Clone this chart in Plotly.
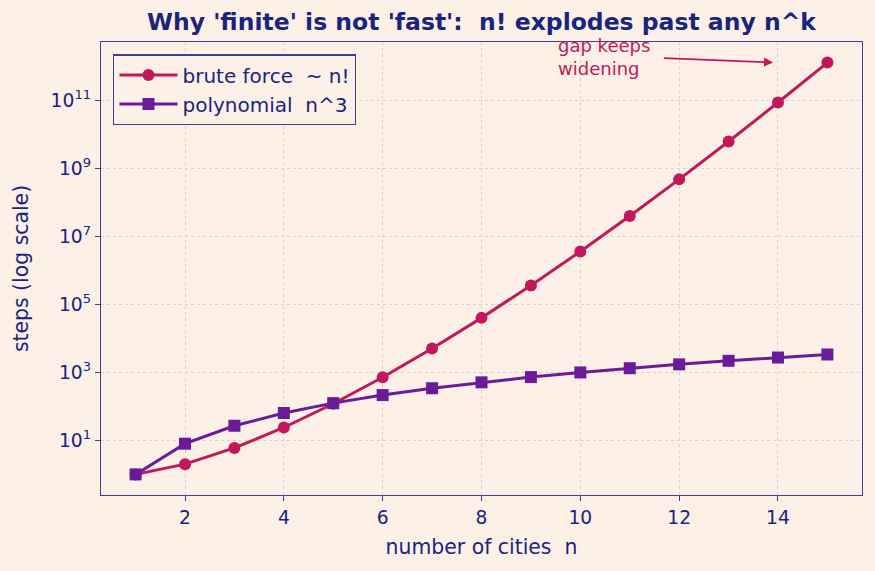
import math
import plotly.graph_objects as go

n = list(range(1, 16))
brute = [math.factorial(k) for k in n]
poly = [k ** 3 for k in n]
ytick_exp = [1, 3, 5, 7, 9, 11]
xticks = [2, 4, 6, 8, 10, 12, 14]

BG = "#fdf1e7"
NAVY = "#1a237e"
SPINE = "#3f3f8f"
RED = "#c2185b"
PURPLE = "#6a1b9a"
GRID = "#ddd0c4"
NB = "\u00a0"

fig = go.Figure()
fig.add_trace(go.Scatter(x=n, y=brute, mode="lines+markers", name="brute force " + NB + "~ n!",
                         line=dict(color=RED, width=3),
                         marker=dict(symbol="circle", size=12, color=RED)))
fig.add_trace(go.Scatter(x=n, y=poly, mode="lines+markers", name="polynomial " + NB + "n^3",
                         line=dict(color=PURPLE, width=3),
                         marker=dict(symbol="square", size=12, color=PURPLE)))

fig.add_annotation(x=13.9, y=12.12, ax=11.66, ay=12.25, xref="x", yref="y",
                   axref="x", ayref="y", text="", showarrow=True,
                   arrowhead=2, arrowsize=1, arrowwidth=1.8, arrowcolor=RED)
fig.add_annotation(x=9.51, y=12.28, xref="x", yref="y", text="gap keeps<br>widening",
                   showarrow=False, xanchor="left", yanchor="middle", align="left",
                   font=dict(family="DejaVu Sans", size=18, color=RED))

fig.update_layout(
    width=875, height=571,
    paper_bgcolor=BG, plot_bgcolor=BG,
    margin=dict(l=101, r=13, t=42, b=76),
    font=dict(family="DejaVu Sans", color=NAVY, size=18.7),
    title=dict(text="<b>Why 'finite' is not 'fast': " + NB + "n! explodes past any n^k</b>",
               xref="paper", x=0.5, xanchor="center", y=0.9615, yanchor="middle",
               font=dict(size=23.5, color=NAVY)),
    legend=dict(x=0.016, y=0.973, xanchor="left", yanchor="top",
                bgcolor=BG, bordercolor=SPINE, borderwidth=1.3, itemwidth=58,
                font=dict(size=20, color=NAVY), tracegroupgap=0),
    xaxis=dict(range=[0.3, 15.7], tickvals=xticks, showline=True, mirror=True,
               linecolor=SPINE, linewidth=1.4, ticks="outside", ticklen=5,
               tickcolor=SPINE, showgrid=True, gridcolor=GRID, griddash="dot",
               gridwidth=1, zeroline=False,
               title=dict(text="number of cities " + NB + "n", font=dict(size=20.4), standoff=13),
               tickfont=dict(size=18.7)),
    yaxis=dict(type="log", range=[-0.606, 12.722],
               tickvals=[10 ** e for e in ytick_exp],
               ticktext=[f"10<sup>{e}</sup>" for e in ytick_exp],
               showline=True, mirror=True, linecolor=SPINE, linewidth=1.4,
               ticks="outside", ticklen=5, tickcolor=SPINE,
               showgrid=True, gridcolor=GRID, griddash="dot", gridwidth=1,
               zeroline=False,
               title=dict(text="steps (log scale)", font=dict(size=20.4), standoff=16),
               tickfont=dict(size=18.7)),
)

fig.write_html("out.html")
